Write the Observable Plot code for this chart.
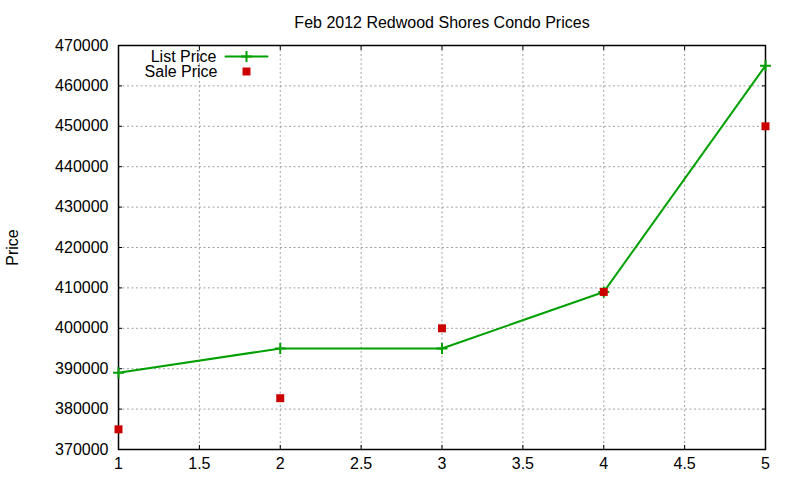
<!DOCTYPE html>
<html>
<head>
<meta charset="utf-8">
<script src="https://cdn.jsdelivr.net/npm/d3@7"></script>
<script src="https://cdn.jsdelivr.net/npm/@observablehq/plot@0.6"></script>
<style>
  html, body { margin: 0; padding: 0; background: #fff; }
  svg { display: block; }
</style>
</head>
<body>
<div id="chart"></div>
<script>
const title = "Feb 2012 Redwood Shores Condo Prices";
const yLabel = "Price";
const weeks = [1, 2, 3, 4, 5];
const listPrice = [389000, 395000, 395000, 409000, 465000];
const salePrice = [375000, 382700, 400000, 409000, 450000];
const xTicks = [1, 1.5, 2, 2.5, 3, 3.5, 4, 4.5, 5];
const yTicks = [370000, 380000, 390000, 400000, 410000, 420000, 430000, 440000, 450000, 460000, 470000];
const seriesNames = ["List Price", "Sale Price"];

const green = "#00a000";
const red = "#cc0000";

const listData = weeks.map((w, i) => ({x: w, y: listPrice[i]}));
const saleData = weeks.map((w, i) => ({x: w, y: salePrice[i]}));

const lineShape = {
  draw(context, l) {
    context.moveTo(0, 0);
    context.lineTo(0, -l);
  }
};

const font = "'Liberation Sans', Arial, sans-serif";

const chart = Plot.plot({
  width: 800,
  height: 480,
  marginLeft: 118,
  marginRight: 35,
  marginTop: 45,
  marginBottom: 31,
  style: {fontFamily: font, fontSize: "16px", color: "#000", background: "#fff"},
  x: {domain: [1, 5]},
  y: {domain: [370000, 470000]},
  marks: [
    Plot.gridX(xTicks, {stroke: "#a0a0a0", strokeOpacity: 1, strokeDasharray: "2,2.5"}),
    Plot.gridY(yTicks, {stroke: "#a0a0a0", strokeOpacity: 1, strokeDasharray: "2,2.5"}),
    Plot.axisY(yTicks, {anchor: "left", tickSize: -4, tickPadding: 14, tickFormat: d => String(d), label: null, fontSize: 16}),
    Plot.axisY(yTicks, {anchor: "right", tickSize: -4, tickFormat: () => "", label: null}),
    Plot.axisX(xTicks, {anchor: "bottom", tickSize: -4, tickPadding: 12, tickFormat: d => String(d), label: null, fontSize: 16}),
    Plot.axisX(xTicks, {anchor: "top", tickSize: -4, tickFormat: () => "", label: null}),
    Plot.frame({stroke: "#000", strokeWidth: 1.5}),
    Plot.line(listData, {x: "x", y: "y", stroke: green, strokeWidth: 2}),
    Plot.dot(listData, {x: "x", y: "y", symbol: "plus", stroke: green, strokeWidth: 2, r: 3.6}),
    Plot.dot(saleData, {x: "x", y: "y", symbol: "square", fill: red, r: 4.5}),
    Plot.text([title], {frameAnchor: "top", dy: -23, lineAnchor: "middle", fontSize: 16, fill: "#000"}),
    Plot.text([yLabel], {frameAnchor: "left", dx: -106, rotate: -90, textAnchor: "middle", lineAnchor: "middle", fontSize: 16, fill: "#000"}),
    // legend
    Plot.text([seriesNames[0]], {frameAnchor: "top-left", dx: 98, dy: 11, textAnchor: "end", lineAnchor: "middle", fontSize: 16, fill: "#000"}),
    Plot.text([seriesNames[1]], {frameAnchor: "top-left", dx: 99, dy: 26, textAnchor: "end", lineAnchor: "middle", fontSize: 16, fill: "#000"}),
    Plot.vector([seriesNames[0]], {frameAnchor: "top-left", dx: 107, dy: 11, length: 42, rotate: 90, anchor: "start", shape: lineShape, stroke: green, strokeWidth: 2}),
    Plot.dot([seriesNames[0]], {frameAnchor: "top-left", dx: 128, dy: 11, symbol: "plus", stroke: green, strokeWidth: 2, r: 3.6}),
    Plot.dot([seriesNames[1]], {frameAnchor: "top-left", dx: 128, dy: 26, symbol: "square", fill: red, r: 4.5})
  ]
});

document.getElementById("chart").appendChild(chart);
</script>
</body>
</html>
